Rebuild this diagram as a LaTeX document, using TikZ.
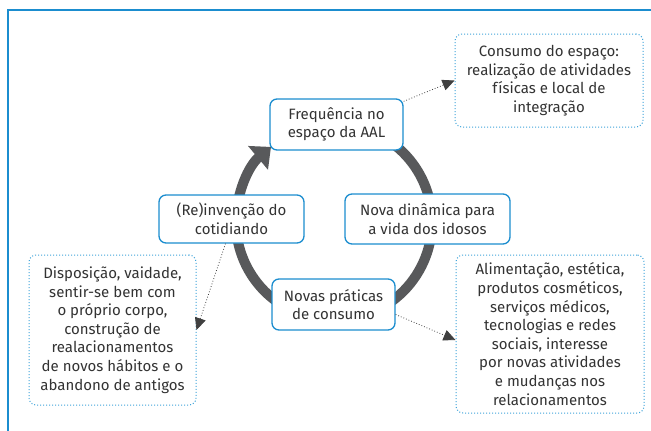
\documentclass[tikz,border=0pt]{standalone}
\usepackage{fontspec}
\setmainfont{Fira Sans}
\usetikzlibrary{arrows.meta}
\definecolor{frameblue}{HTML}{1B8DCF}
\definecolor{ringgray}{HTML}{58595B}
\definecolor{txt}{HTML}{333333}
\definecolor{dotblue}{HTML}{3FA4DA}
\begin{document}
\begin{tikzpicture}[x=1pt,y=-1pt,
  every node/.style={font=\fontsize{15}{18.6}\selectfont, text=txt, align=center, inner sep=0pt},
  mainbox/.style={draw=frameblue, line width=1.3pt, rounded corners=7pt, fill=white},
  notebox/.style={draw=dotblue, line width=1pt, dotted, rounded corners=7pt, fill=white},
  link/.style={draw=black!75, line width=0.8pt, dotted, -{Triangle[length=12pt,width=11pt]}}]
\useasboundingbox (0,0) rectangle (651,431);
\draw[frameblue, line width=1.5pt] (8,431) -- (8,10) -- (651,10);
\coordinate (c) at (334,222);
\draw[ringgray, line width=10pt, -{Triangle[length=17pt,width=30pt]}]
  ([shift={(60:98pt)}]c) arc[start angle=60, end angle=-230, radius=98pt];
\node[mainbox, minimum width=133pt, minimum height=51pt] (freq) at (336.5,124.5) {Frequência no\\espaço da AAL};
\node[mainbox, minimum width=145pt, minimum height=48pt] (reinv) at (231.5,219) {(Re)invenção do\\cotidiando};
\node[mainbox, minimum width=165pt, minimum height=50pt] (nova) at (427.5,219) {Nova dinâmica para\\a vida dos idosos};
\node[mainbox, minimum width=123pt, minimum height=51pt] (prat) at (333.5,304.5) {Novas práticas\\de consumo};
\node[notebox, minimum width=188pt, minimum height=93pt] (cons) at (549,80.5) {Consumo do espaço:\\realização de atividades\\físicas e local de\\integração};
\node[notebox, minimum width=188pt, minimum height=158pt] (alim) at (550,334) {Alimentação, estética,\\produtos cosméticos,\\serviços médicos,\\tecnologias e redes\\sociais, interesse\\por novas atividades\\e mudanças nos\\relacionamentos};
\node[notebox, minimum width=167pt, minimum height=150pt] (disp) at (112.5,330) {Disposição, vaidade,\\sentir-se bem com\\o próprio corpo,\\construção de\\realacionamentos\\de novos hábitos e o\\abandono de antigos};
\draw[link] ([yshift=-3pt]freq.north east) -- (cons.west);
\draw[link] ([yshift=-10pt]prat.east) -- ([yshift=-6pt]alim.west);
\draw[link] ([xshift=-6pt]reinv.south) -- (disp.east);
\end{tikzpicture}
\end{document}
